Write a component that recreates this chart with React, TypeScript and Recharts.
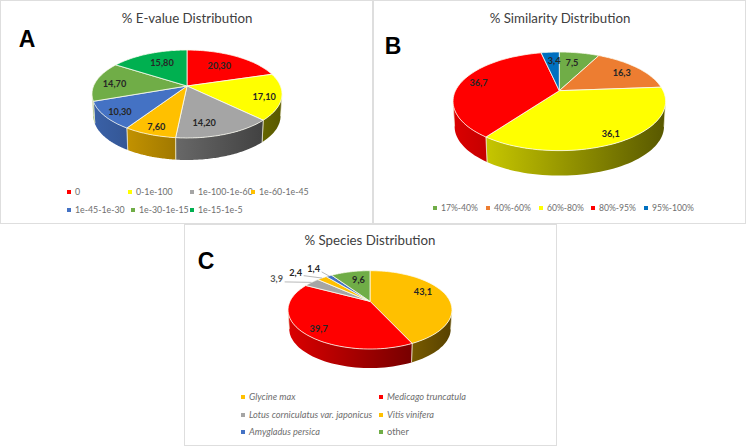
import React from 'react';
import { PieChart, Pie, Legend } from 'recharts';

// E-value panel
const evalueNames = ['0', '0-1e-100', '1e-100-1e-60', '1e-60-1e-45', '1e-45-1e-30', '1e-30-1e-15', '1e-15-1e-5'];
const evalueValues = [20.3, 17.1, 14.2, 7.6, 10.3, 14.7, 15.8];
const evalueColors = ['#ff0000', '#ffff00', '#a5a5a5', '#ffc000', '#4472c4', '#70ad47', '#00b050'];

// Similarity panel
const similarityNames = ['17%-40%', '40%-60%', '60%-80%', '80%-95%', '95%-100%'];
const similarityValues = [7.5, 16.3, 36.1, 36.7, 3.4];
const similarityColors = ['#70ad47', '#ed7d31', '#ffff00', '#ff0000', '#0070c0'];

// Species panel
const speciesNames = ['Glycine max', 'Medicago truncatula', 'Lotus corniculatus var. japonicus', 'Vitis vinifera', 'Amygladus persica', 'other'];
const speciesValues = [43.1, 39.7, 3.9, 2.4, 1.4, 9.6];
const speciesColors = ['#ffc000', '#ff0000', '#a5a5a5', '#ffc000', '#4472c4', '#70ad47'];

const FONT = 'Lato, "Open Sans", sans-serif';

const makeRows = (names: string[], values: number[], colors: string[]) =>
  names.map((name, i) => ({ name, value: values[i], fill: colors[i] }));

interface Tilt {
  cx: number;
  cy: number;
  b: number; // half width of the tilted disc
  a: number; // vertical reach
  k: number; // perspective strength
  depth: number;
}

// polar angle + radius fraction -> point on the tilted disc
const project = (t: Tilt, angle: number, reach = 1) => {
  const rad = (angle * Math.PI) / 180;
  const u = Math.cos(rad) * reach;
  const v = Math.sin(rad) * reach;
  const d = 1 + t.k * v;
  return { x: t.cx + (t.b * u) / d, y: t.cy - (t.a * v) / d };
};

const shade = (hex: string, f: number) => {
  const n = parseInt(hex.slice(1), 16);
  const c = [(n >> 16) & 255, (n >> 8) & 255, n & 255].map((x) => Math.round(x * f));
  return `rgb(${c[0]},${c[1]},${c[2]})`;
};

const makeSlice = (t: Tilt, panel: string) => (props: any) => {
  const { startAngle, endAngle, fill } = props;
  const steps = 60;
  const rim = [];
  for (let i = 0; i <= steps; i++) {
    rim.push({ angle: startAngle + ((endAngle - startAngle) * i) / steps });
  }
  const top = rim.map((r) => project(t, r.angle));
  const front = rim
    .filter((r) => Math.sin((r.angle * Math.PI) / 180) < -t.k)
    .map((r) => project(t, r.angle));
  const drop = (p: { x: number; y: number }) => ({
    x: t.cx + (p.x - t.cx) * 0.985,
    y: p.y + t.depth,
  });
  const gid = `wall-${panel}-${fill.slice(1)}`;
  const wall = [...front, ...front.map(drop).reverse()];
  const toPath = (pts: { x: number; y: number }[]) =>
    pts.map((p, i) => `${i ? 'L' : 'M'}${p.x.toFixed(1)} ${p.y.toFixed(1)}`).join(' ');
  const first = front[0];
  const last = front[front.length - 1];

  return (
    <g>
      <defs>
        <linearGradient id={gid} gradientUnits="userSpaceOnUse" x1={t.cx - t.b} x2={t.cx + t.b} y1={0} y2={0}>
          <stop offset="0%" stopColor={shade(fill, 0.85)} />
          <stop offset="50%" stopColor={shade(fill, 0.6)} />
          <stop offset="100%" stopColor={shade(fill, 0.35)} />
        </linearGradient>
      </defs>
      {front.length > 1 && <path d={`${toPath(wall)} Z`} fill={`url(#${gid})`} />}
      {front.length > 1 && (
        <path
          d={`${toPath([first, drop(first)])} ${toPath([last, drop(last)])}`}
          stroke="#f2efd8"
          strokeWidth={0.7}
          fill="none"
        />
      )}
      <path
        d={`M${t.cx} ${t.cy} ${toPath(top).replace('M', 'L')} Z`}
        fill={fill}
        stroke="#fbfbf0"
        strokeWidth={0.8}
        strokeLinejoin="round"
      />
    </g>
  );
};

const makeLabel = (t: Tilt, digits: number, reach: number[], nudge: number[][], callouts: number[]) => (props: any) => {
  const { midAngle, value, index } = props;
  const at = project(t, midAngle, reach[index]);
  const x = at.x + nudge[index][0];
  const y = at.y + nudge[index][1];
  const isCallout = callouts.includes(index);
  const edge = project(t, midAngle, 1);
  return (
    <g>
      {isCallout && (
        <line x1={x + 8} y1={y + 3} x2={edge.x} y2={edge.y} stroke="#a6a6a6" strokeWidth={0.8} />
      )}
      <text
        x={x}
        y={y}
        textAnchor="middle"
        dominantBaseline="central"
        fontFamily={FONT}
        fontSize={9.2}
        fontWeight={700}
        fill={index === 2 && isCallout ? '#595959' : '#262626'}
      >
        {value.toFixed(digits).replace('.', ',')}
      </text>
    </g>
  );
};

const makeLegend = (columns: number[], rows: number[], perRow: number, italicUpTo: number, size: number) => (props: any) => (
  <div style={{ position: 'relative', width: 373, height: 224 }}>
    {(props.payload || []).map((entry: any, i: number) => (
      <div
        key={entry.value}
        style={{
          position: 'absolute',
          left: columns[i],
          top: rows[Math.floor(i / perRow)] - 7,
          height: 14,
          lineHeight: '14px',
          whiteSpace: 'nowrap',
          fontFamily: FONT,
          fontSize: size,
          color: '#6e6e6e',
          fontStyle: i < italicUpTo ? 'italic' : 'normal',
        }}
      >
        <span
          style={{
            position: 'absolute',
            left: -2,
            top: 5,
            width: 3.5,
            height: 3.5,
            background: entry.color,
          }}
        />
        <span style={{ marginLeft: 6 }}>{entry.value}</span>
      </div>
    ))}
  </div>
);

interface PanelProps {
  left: number;
  top: number;
  height: number;
  id: string;
  title: string;
  titleX: number;
  titleY: number;
  letterX: number;
  letterY: number;
  rows: { name: string; value: number; fill: string }[];
  tilt: Tilt;
  digits: number;
  reach: number[];
  nudge: number[][];
  callouts: number[];
  legend: (props: any) => React.ReactElement;
}

const Panel: React.FC<PanelProps> = (p) => (
  <div
    style={{
      position: 'absolute',
      left: p.left,
      top: p.top,
      width: 373,
      height: p.height,
      boxSizing: 'border-box',
      border: '1px solid #dedede',
      background: '#fff',
    }}
  >
    <div style={{ position: 'absolute', left: -1, top: -1 }}>
      <PieChart width={373} height={p.height} margin={{ top: 0, right: 0, bottom: 0, left: 0 }}>
        <text x={p.titleX} y={p.titleY} textAnchor="middle" dominantBaseline="central" fontFamily={FONT} fontSize={13.3} fill="#404040">
          {p.title}
        </text>
        <text x={p.letterX} y={p.letterY} textAnchor="middle" dominantBaseline="central" fontFamily="Liberation Sans" fontWeight={700} fontSize={23} fill="#000">
          {p.id}
        </text>
        <Pie
          data={p.rows}
          dataKey="value"
          nameKey="name"
          cx={p.tilt.cx}
          cy={p.tilt.cy}
          outerRadius={p.tilt.b}
          startAngle={90}
          endAngle={-270}
          isAnimationActive={false}
          shape={makeSlice(p.tilt, p.id)}
          labelLine={false}
          label={makeLabel(p.tilt, p.digits, p.reach, p.nudge, p.callouts)}
        />
        <Legend
          content={p.legend}
          itemSorter={null}
          wrapperStyle={{ left: 0, top: 0, width: 373, height: 0, bottom: 'auto' }}
        />
      </PieChart>
    </div>
  </div>
);

export default function App() {
  return (
    <div style={{ position: 'absolute', left: 0, top: 0, width: 746, height: 448, background: '#fff' }}>
      <Panel
        left={0}
        top={0}
        height={224}
        id="A"
        title="% E-value Distribution"
        titleX={187}
        titleY={18}
        letterX={27}
        letterY={39}
        rows={makeRows(evalueNames, evalueValues, evalueColors)}
        tilt={{ cx: 187, cy: 86, b: 93.4, a: 42.5, k: 0.182, depth: 22 }}
        digits={2}
        reach={[0.7, 0.8, 0.75, 0.7, 0.75, 0.75, 0.7]}
        nudge={[[-3, 1], [2, 2], [-10, 2], [-6, 9], [-7, 4], [-4, 1], [3, 0]]}
        callouts={[]}
        legend={makeLegend([69, 130, 192, 253, 69, 133, 192], [192, 210], 4, 0, 8.8)}
      />
      <Panel
        left={373}
        top={0}
        height={224}
        id="B"
        title="% Similarity Distribution"
        titleX={187}
        titleY={18}
        letterX={20}
        letterY={46}
        rows={makeRows(similarityNames, similarityValues, similarityColors)}
        tilt={{ cx: 186.3, cy: 90.7, b: 103.8, a: 47, k: 0.216, depth: 25 }}
        digits={1}
        reach={[0.75, 0.75, 0.75, 0.75, 0.75]}
        nudge={[[-3, 1], [3, 0], [7, 7], [-7, -1], [2, 0]]}
        callouts={[]}
        legend={makeLegend([62, 115, 168, 220, 273], [208], 5, 0, 8.6)}
      />
      <Panel
        left={184}
        top={224}
        height={222}
        id="C"
        title="% Species Distribution"
        titleX={186}
        titleY={16}
        letterX={22}
        letterY={37}
        rows={makeRows(speciesNames, speciesValues, speciesColors)}
        tilt={{ cx: 186, cy: 77.3, b: 80, a: 37.3, k: 0.218, depth: 19 }}
        digits={1}
        reach={[0.7, 0.7, 1.4, 1.5, 1.5, 0.7]}
        nudge={[[0, -4], [-6, 7], [-15, 3], [-7, 4], [1, 3], [3, 0]]}
        callouts={[2, 3, 4]}
        legend={makeLegend([59, 197, 59, 197, 59, 197], [173, 191, 208], 2, 5, 9.2)}
      />
    </div>
  );
}
